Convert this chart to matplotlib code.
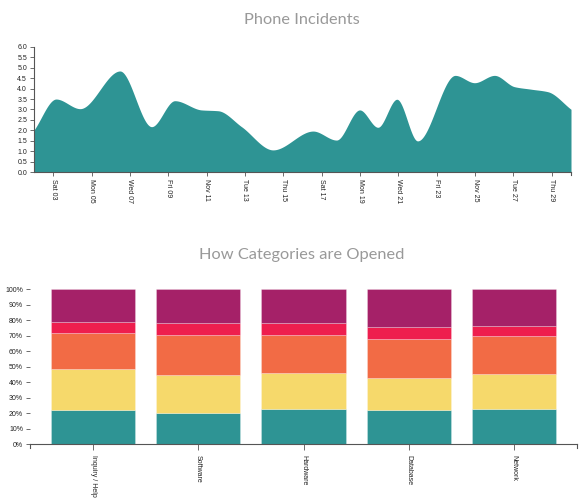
import numpy as np
import matplotlib
matplotlib.use("Agg")
import matplotlib.pyplot as plt

# ---------------- data ----------------
# Phone incidents (day of November 2018, count)
inc_days = [2.0, 3.15, 4.4, 6.48, 8.13, 9.34, 10.73, 11.6, 12.82, 14.46, 16.55,
            17.77, 18.98, 19.93, 20.92, 22.0, 23.96, 24.97, 26.01, 27.05, 27.92,
            28.79, 30.0]
inc_values = [2.02, 3.50, 3.04, 4.84, 2.18, 3.42, 2.98, 2.94, 2.18, 1.07, 1.97,
              1.54, 2.98, 2.15, 3.49, 1.50, 4.63, 4.28, 4.63, 4.09, 3.97,
              3.85, 3.01]
tick_days = [3, 5, 7, 9, 11, 13, 15, 17, 19, 21, 23, 25, 27, 29]
tick_labels = ["Sat 03", "Mon 05", "Wed 07", "Fri 09", "Nov 11", "Tue 13",
               "Thu 15", "Sat 17", "Mon 19", "Wed 21", "Fri 23", "Nov 25",
               "Tue 27", "Thu 29"]

categories = ["Inquiry / Help", "Software", "Hardware", "Database", "Network"]
seg1 = [21.9, 20.0, 22.5, 21.9, 22.9]
seg2 = [26.8, 24.8, 23.6, 20.6, 22.2]
seg3 = [23.2, 25.8, 24.1, 25.3, 24.6]
seg4 = [7.1, 7.3, 7.7, 7.5, 6.5]
seg5 = [21.0, 22.1, 22.1, 24.7, 23.8]
seg_colors = ["#2E9494", "#F6D96B", "#F26B45", "#EE1E4E", "#A52168"]


def pchip(x, y, xs):
    x = np.asarray(x, float); y = np.asarray(y, float)
    h = np.diff(x); d = np.diff(y) / h
    n = len(x); m = np.zeros(n)
    for k in range(1, n - 1):
        if d[k - 1] * d[k] > 0:
            w1 = 2 * h[k] + h[k - 1]; w2 = h[k] + 2 * h[k - 1]
            m[k] = (w1 + w2) / (w1 / d[k - 1] + w2 / d[k])
    m[0] = d[0]; m[-1] = d[-1]
    idx = np.clip(np.searchsorted(x, xs) - 1, 0, n - 2)
    t = (xs - x[idx]) / h[idx]
    h00 = 2 * t**3 - 3 * t**2 + 1; h10 = t**3 - 2 * t**2 + t
    h01 = -2 * t**3 + 3 * t**2; h11 = t**3 - t**2
    return (h00 * y[idx] + h10 * h[idx] * m[idx] + h01 * y[idx + 1]
            + h11 * h[idx] * m[idx + 1])


W, H = 581, 498
fig = plt.figure(figsize=(W / 100, H / 100), dpi=100)
tick_font = {"family": ["Liberation Sans", "DejaVu Sans"], "size": 5}
title_kw = dict(family=["Lato", "DejaVu Sans"], size=11.8, color="#999999")
axis_col = "#555555"

# ---------------- top: area chart ----------------
ax1 = fig.add_axes([34 / W, 1 - 172.3 / H, (571 - 34) / W, (172.3 - 46.7) / H])
xs = np.linspace(inc_days[0], inc_days[-1], 800)
ys = pchip(inc_days, inc_values, xs)
ax1.fill_between(xs, 0, ys, color="#2E9494", linewidth=0)
ax1.set_xlim(2, 30)
ax1.set_ylim(0, 6)
ax1.set_yticks(np.arange(0, 6.01, 0.5))
ax1.set_yticklabels([f"{v:.1f}" for v in np.arange(0, 6.01, 0.5)], fontdict=tick_font)
ax1.set_xticks(tick_days)
ax1.set_xticklabels(tick_labels, fontdict=tick_font, rotation=-90, va="top", ha="center")
for s in ["top", "right"]:
    ax1.spines[s].set_visible(False)
for s in ["left", "bottom"]:
    ax1.spines[s].set_color(axis_col)
    ax1.spines[s].set_linewidth(0.8)
ax1.tick_params(length=3, width=0.6, color=axis_col, labelcolor="#222222", pad=2)
fig.text(302 / W, 1 - 20 / H, "Phone Incidents", ha="center", va="center", **title_kw)

# ---------------- bottom: stacked bars ----------------
ax2 = fig.add_axes([30 / W, 1 - 444.3 / H, (577 - 30) / W, (444.3 - 289) / H])
pos = np.arange(len(categories))
bottom = np.zeros(len(categories))
for vals, col in zip([seg1, seg2, seg3, seg4, seg5], seg_colors):
    ax2.bar(pos, vals, bottom=bottom, width=0.8, color=col,
            edgecolor=(1, 1, 1, 0.35), linewidth=0.5)
    bottom += np.array(vals)
ax2.set_xlim(-0.6, 4.6)
ax2.set_ylim(0, 100)
ax2.set_yticks(np.arange(0, 101, 10))
ax2.set_yticklabels([f"{v}%" for v in range(0, 101, 10)], fontdict=tick_font)
ax2.set_xticks(pos)
ax2.set_xticklabels(categories, fontdict=tick_font, rotation=-90, va="top", ha="center")
for s in ["top", "right", "left"]:
    ax2.spines[s].set_visible(False)
ax2.spines["bottom"].set_color(axis_col)
ax2.spines["bottom"].set_linewidth(0.8)
ax2.tick_params(axis="y", length=3, width=0.6, color=axis_col, labelcolor="#222222", pad=2)
ax2.tick_params(axis="x", length=4, width=0.6, color=axis_col, labelcolor="#222222", pad=4)
# outer ticks at both ends of the x domain
ax2.plot([-0.6, -0.6], [0, -2.5], color=axis_col, lw=0.8, clip_on=False)
ax2.plot([4.6, 4.6], [0, -2.5], color=axis_col, lw=0.8, clip_on=False)
ax1.plot([30, 30], [0, -0.12], color=axis_col, lw=0.8, clip_on=False)
fig.text(302 / W, 1 - 255 / H, "How Categories are Opened", ha="center", va="center", **title_kw)

fig.savefig("out.png", dpi=100)
